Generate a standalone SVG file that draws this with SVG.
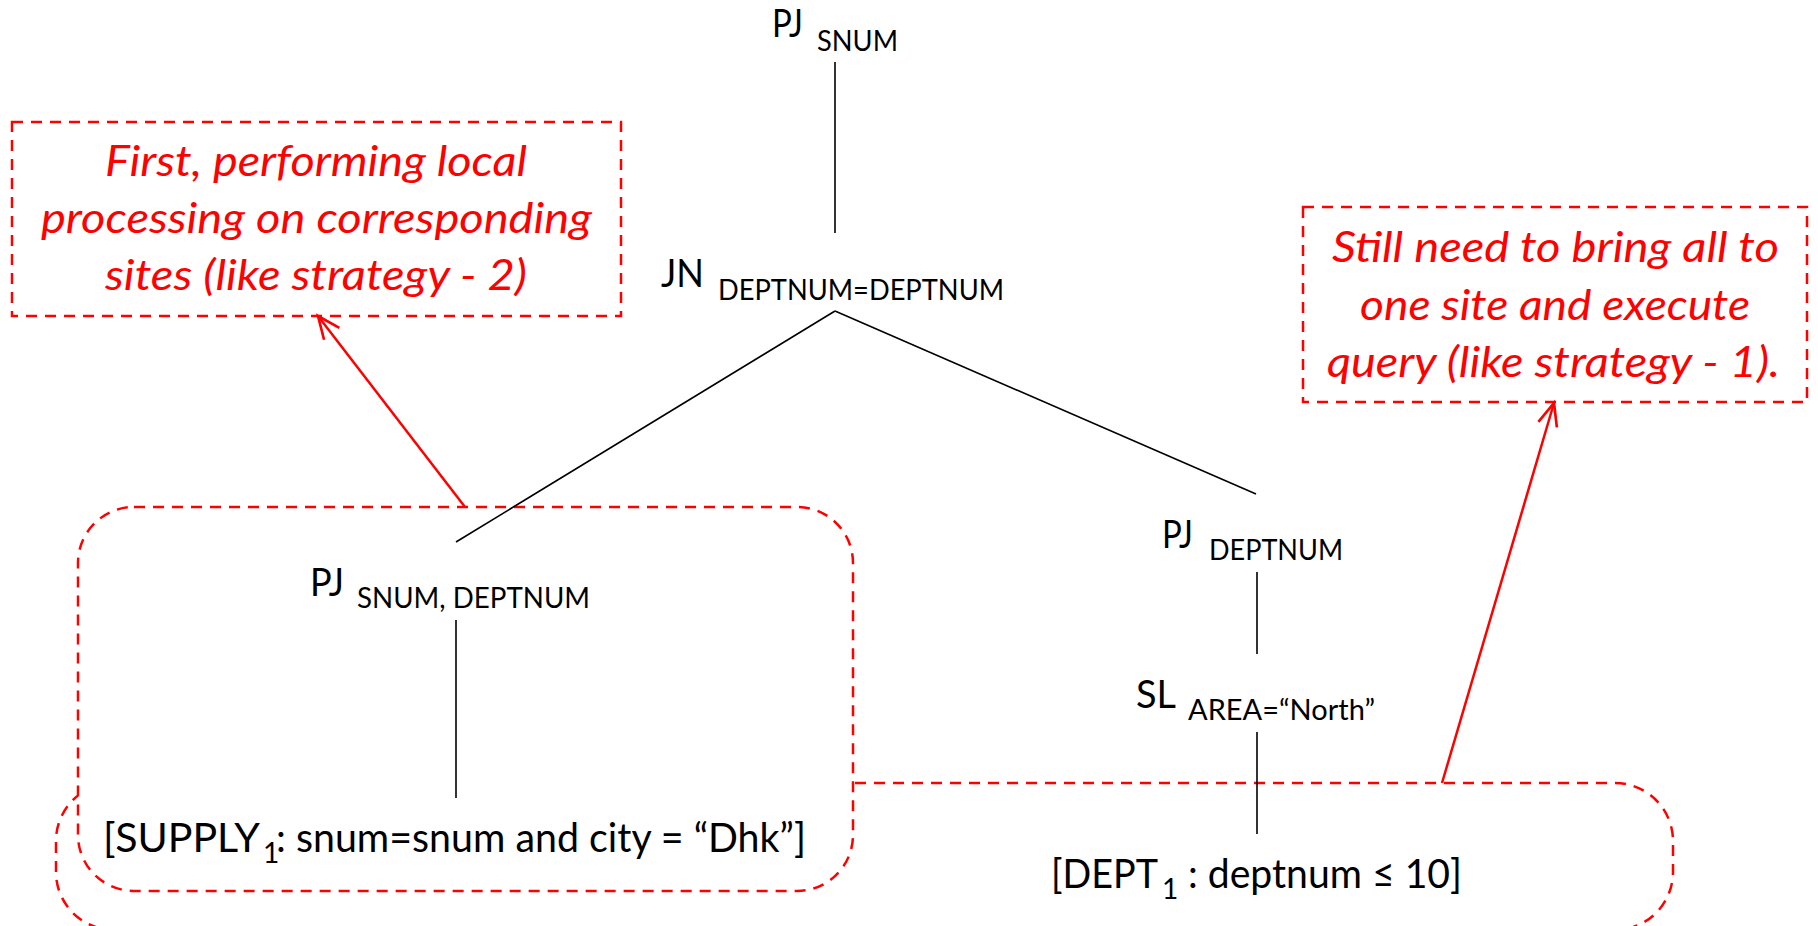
<svg xmlns="http://www.w3.org/2000/svg" width="1818" height="926" viewBox="0 0 1818 926">
<style>
.t{font-family:Lato,"Open Sans","Liberation Sans",sans-serif;fill:#000;}
.m{font-size:38px;}
.s{font-size:28px;}
.b{font-size:40px;}
.r{font-family:Lato,"Open Sans","Liberation Sans",sans-serif;font-style:italic;font-size:42px;fill:#ff0000;text-anchor:start;}
.dash{fill:#fff;stroke:#ff0000;stroke-width:2.5;stroke-dasharray:11 8;}
.edge{stroke:#000;stroke-width:1.6;fill:none;}
.arrow{stroke:#ff0000;stroke-width:2.5;fill:none;}
</style>
<defs>
<marker id="ah" markerUnits="userSpaceOnUse" markerWidth="30" markerHeight="30" viewBox="-24 -12 28 24" refX="0" refY="0" orient="auto">
<path d="M -21 -9 L 0 0 L -21 9" fill="none" stroke="#ff0000" stroke-width="2.5"/>
</marker>
</defs>
<rect x="0" y="0" width="1818" height="926" fill="#fff"/>
<g id="region-all-sites">
<rect class="dash" x="56" y="783" width="1617" height="147" rx="58" ry="58"/>
</g>
<g id="region-local">
<rect class="dash" x="78" y="507" width="775" height="384" rx="56" ry="56"/>
</g>
<g id="note-local">
<rect x="12" y="122" width="609" height="194" fill="none" stroke="#ff0000" stroke-width="2.5" stroke-dasharray="11 8"/>
<text class="r" x="105" y="176" textLength="422" lengthAdjust="spacingAndGlyphs">First, performing local</text>
<text class="r" x="41" y="233" textLength="551" lengthAdjust="spacingAndGlyphs">processing on corresponding</text>
<text class="r" x="105" y="290" textLength="422" lengthAdjust="spacingAndGlyphs">sites (like strategy - 2)</text>
</g>
<g id="note-bring">
<rect x="1303" y="207" width="504" height="195" fill="none" stroke="#ff0000" stroke-width="2.5" stroke-dasharray="11 8"/>
<text class="r" x="1332" y="262" textLength="447" lengthAdjust="spacingAndGlyphs">Still need to bring all to</text>
<text class="r" x="1360" y="320" textLength="390" lengthAdjust="spacingAndGlyphs">one site and execute</text>
<text class="r" x="1327" y="377" textLength="453" lengthAdjust="spacingAndGlyphs">query (like strategy - 1).</text>
</g>
<g id="connectors">
<line class="edge" x1="835" y1="62" x2="835" y2="233"/>
<line class="edge" x1="835" y1="311" x2="456" y2="542"/>
<line class="edge" x1="835" y1="311" x2="1256" y2="494"/>
<line class="edge" x1="456" y1="620" x2="456" y2="798"/>
<line class="edge" x1="1257" y1="572" x2="1257" y2="654"/>
<line class="edge" x1="1257" y1="732" x2="1257" y2="834"/>
<line class="arrow" x1="465" y1="507" x2="318" y2="316" marker-end="url(#ah)"/>
<line class="arrow" x1="1442" y1="783" x2="1554" y2="403" marker-end="url(#ah)"/>
</g>
<g id="pj-snum">
<text class="t m" x="772" y="37" textLength="31" lengthAdjust="spacingAndGlyphs">PJ</text>
<text class="t s" x="817" y="51" textLength="81" lengthAdjust="spacingAndGlyphs">SNUM</text>
</g>
<g id="jn">
<text class="t m" x="661" y="287" textLength="43" lengthAdjust="spacingAndGlyphs">JN</text>
<text class="t s" x="718" y="300" textLength="286" lengthAdjust="spacingAndGlyphs">DEPTNUM=DEPTNUM</text>
</g>
<g id="pj-snum-deptnum">
<text class="t m" x="310" y="596" textLength="34" lengthAdjust="spacingAndGlyphs">PJ</text>
<text class="t s" x="357" y="608" textLength="233" lengthAdjust="spacingAndGlyphs">SNUM, DEPTNUM</text>
</g>
<g id="supply">
<text class="t b" x="103" y="852" textLength="157" lengthAdjust="spacingAndGlyphs">[SUPPLY</text>
<text class="t s" x="263" y="863">1</text>
<text class="t b" x="276" y="852" textLength="530" lengthAdjust="spacingAndGlyphs">: snum=snum and city = “Dhk”]</text>
</g>
<g id="pj-deptnum">
<text class="t m" x="1162" y="548" textLength="31" lengthAdjust="spacingAndGlyphs">PJ</text>
<text class="t s" x="1209" y="560" textLength="134" lengthAdjust="spacingAndGlyphs">DEPTNUM</text>
</g>
<g id="sl-area">
<text class="t m" x="1136" y="708" textLength="40" lengthAdjust="spacingAndGlyphs">SL</text>
<text class="t s" x="1188" y="720" textLength="187" lengthAdjust="spacingAndGlyphs">AREA=“North”</text>
</g>
<g id="dept">
<text class="t b" x="1051" y="888" textLength="107" lengthAdjust="spacingAndGlyphs">[DEPT</text>
<text class="t s" x="1162" y="899">1</text>
<text class="t b" x="1188" y="888" textLength="274" lengthAdjust="spacingAndGlyphs">: deptnum ≤ 10]</text>
</g>
</svg>
